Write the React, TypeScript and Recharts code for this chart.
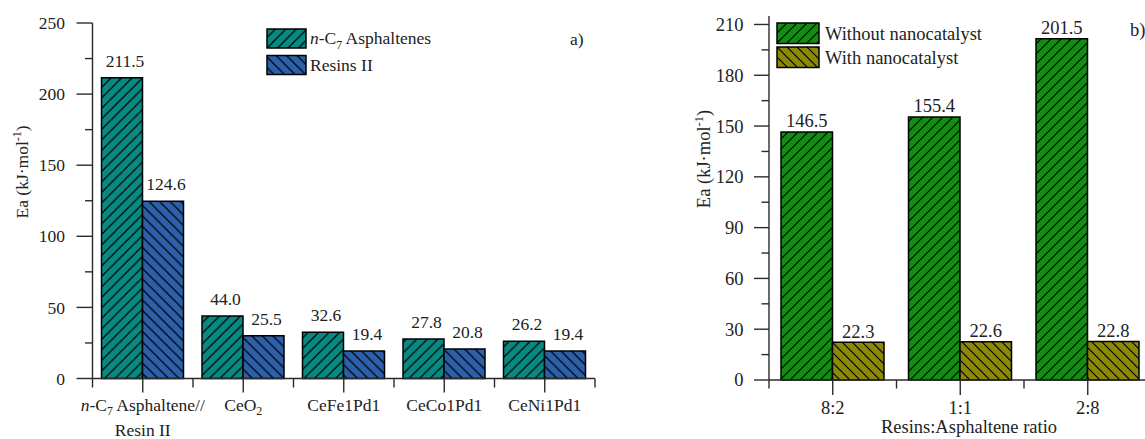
import React from "react";
import { BarChart, Bar, XAxis, YAxis, LabelList } from "recharts";

// panel a) activation energy, n-C7 asphaltenes vs resins II
const leftCategories = ["~n~-C_{7} Asphaltene//|Resin II", "CeO_{2}", "CeFe1Pd1", "CeCo1Pd1", "CeNi1Pd1"];
const asphalteneValues = [211.5, 44.0, 32.6, 27.8, 26.2];
const resinValues = [124.6, 30.0, 19.4, 20.8, 19.4];
const resinLabels = ["124.6", "25.5", "19.4", "20.8", "19.4"];
const leftSeriesNames = ["~n~-C_{7} Asphaltenes", "Resins II"];
const leftTicks = [0, 25, 50, 75, 100, 125, 150, 175, 200, 225, 250];

// panel b) resins:asphaltene ratio
const ratioCategories = ["8:2", "1:1", "2:8"];
const withoutValues = [146.5, 155.4, 201.5];
const withValues = [22.3, 22.6, 22.8];
const rightSeriesNames = ["Without nanocatalyst", "With nanocatalyst"];
const rightTicks = [0, 15, 30, 45, 60, 75, 90, 105, 120, 135, 150, 165, 180, 195, 210];

const SERIF = "'Liberation Serif', 'Times New Roman', serif";
const AXIS = "#2b2b2b";
const TEXT = "#222";
const axisLine = { stroke: AXIS, strokeWidth: 1.4 };

// tiny markup: ~italic~, _{sub}, ^{sup}
function rich(text: string, size: number) {
  const out: React.ReactNode[] = [];
  let italic = false;
  let buf = "";
  let pendingDy = 0;
  let k = 0;
  const push = (s: string, dy: number, fs?: number) => {
    out.push(
      <tspan key={k++} dy={dy || undefined} fontSize={fs} fontStyle={italic ? "italic" : undefined}>
        {s}
      </tspan>
    );
  };
  const flush = () => {
    if (buf) {
      push(buf, pendingDy);
      pendingDy = 0;
      buf = "";
    }
  };
  for (let i = 0; i < text.length; i++) {
    const c = text[i];
    if (c === "~") {
      flush();
      italic = !italic;
    } else if ((c === "_" || c === "^") && text[i + 1] === "{") {
      flush();
      const end = text.indexOf("}", i);
      const inner = text.slice(i + 2, end);
      const shift = c === "_" ? size * 0.28 : -size * 0.4;
      push(inner, pendingDy + shift, size * 0.68);
      pendingDy = -shift;
      i = end;
    } else {
      buf += c;
    }
  }
  flush();
  return out;
}

function makeYTick(majorStep: number, majorLen: number, minorLen: number, labelGap: number, fontSize: number) {
  return (props: any) => {
    const { x, y, payload } = props;
    const major = payload.value % majorStep === 0;
    return (
      <g>
        <line x1={x} x2={x - (major ? majorLen : minorLen)} y1={y} y2={y} stroke={AXIS} strokeWidth={1.4} />
        {major && (
          <text x={x - labelGap} y={y} dy="0.35em" textAnchor="end" fontSize={fontSize} fontFamily={SERIF} fill={TEXT}>
            {payload.value}
          </text>
        )}
      </g>
    );
  };
}

function makeXTick(band: number, count: number, majorLen: number, minorLen: number, fontSize: number, base: number, lineGap: number) {
  return (props: any) => {
    const { x, y, payload, index } = props;
    const lines = String(payload.value).split("|");
    return (
      <g>
        <line x1={x} x2={x} y1={y} y2={y + majorLen} stroke={AXIS} strokeWidth={1.4} />
        <line x1={x - band / 2} x2={x - band / 2} y1={y} y2={y + minorLen} stroke={AXIS} strokeWidth={1.4} />
        {index === count - 1 && (
          <line x1={x + band / 2} x2={x + band / 2} y1={y} y2={y + minorLen} stroke={AXIS} strokeWidth={1.4} />
        )}
        {lines.map((ln, i) => (
          <text key={i} x={x} y={y + base + i * lineGap} textAnchor="middle" fontSize={fontSize} fontFamily={SERIF} fill={TEXT}>
            {rich(ln, fontSize)}
          </text>
        ))}
      </g>
    );
  };
}

function Hatch({ id, color, period, back }: { id: string; color: string; period: number; back?: boolean }) {
  const p = period;
  const d = back
    ? `M0,0 L${p},${p} M${-p / 2},${p / 2} L${p / 2},${p * 1.5} M${p / 2},${-p / 2} L${p * 1.5},${p / 2}`
    : `M0,${p} L${p},0 M${-p / 2},${p / 2} L${p / 2},${-p / 2} M${p / 2},${p * 1.5} L${p * 1.5},${p / 2}`;
  return (
    <pattern id={id} patternUnits="userSpaceOnUse" width={p} height={p}>
      <rect width={p} height={p} fill={color} />
      <path d={d} stroke="#000" strokeWidth={1.2} />
    </pattern>
  );
}

const leftYTick = makeYTick(50, 16, 7.5, 27.5, 17.5);
const leftXTick = makeXTick(100.5, leftCategories.length, 14, 9, 17.5, 32, 25);
const rightYTick = makeYTick(30, 15, 7.5, 25.5, 18.5);
const rightXTick = makeXTick(127.5, ratioCategories.length, 15, 8.5, 18.5, 34, 25);

export default function App() {
  const leftData = leftCategories.map((name, i) => ({
    name,
    asph: asphalteneValues[i],
    resin: resinValues[i],
    resinLabel: resinLabels[i],
  }));
  const rightData = ratioCategories.map((name, i) => ({
    name,
    without: withoutValues[i],
    with: withValues[i],
  }));

  const leftLegend = [
    { name: leftSeriesNames[0], fill: "url(#hatchTeal)" },
    { name: leftSeriesNames[1], fill: "url(#hatchBlue)" },
  ];
  const rightLegend = [
    { name: rightSeriesNames[0], fill: "url(#hatchGreen)" },
    { name: rightSeriesNames[1], fill: "url(#hatchOlive)" },
  ];

  return (
    <div style={{ position: "fixed", left: 0, top: 0, width: 1145, height: 439, overflow: "hidden", background: "#fff" }}>
      <svg width={0} height={0} style={{ position: "absolute" }}>
        <defs>
          <Hatch id="hatchTeal" color="#088a83" period={10.5} />
          <Hatch id="hatchBlue" color="#2d60ab" period={10.5} back />
          <Hatch id="hatchGreen" color="#138c13" period={10} />
          <Hatch id="hatchOlive" color="#8c8a05" period={10} back />
        </defs>
      </svg>

      <div style={{ position: "absolute", left: 0, top: 0 }}>
        <BarChart width={600} height={439} data={leftData} margin={{ top: 23, right: 5, bottom: 0, left: 0 }} barGap={0}>
          <XAxis dataKey="name" height={60.5} interval={0} tickLine={false} tickSize={0} tickMargin={0} axisLine={axisLine} tick={leftXTick} />
          <XAxis xAxisId="top" orientation="top" height={0} tick={false} tickLine={false} axisLine={axisLine} />
          <YAxis type="number" domain={[0, 250]} ticks={leftTicks} interval={0} width={92.5} tickLine={false} tickSize={0} tickMargin={0} axisLine={axisLine} tick={leftYTick} />
          <YAxis yAxisId="right" orientation="right" width={0} tick={false} tickLine={false} axisLine={axisLine} />
          <Bar dataKey="asph" name="n-C7 Asphaltenes" barSize={41} fill="url(#hatchTeal)" stroke="#000" strokeWidth={1.5} isAnimationActive={false}>
            <LabelList dataKey="asph" position="top" offset={11} dx={3} formatter={(v: any) => Number(v).toFixed(1)} fontSize={17.5} fontFamily={SERIF} fill={TEXT} />
          </Bar>
          <Bar dataKey="resin" name="Resins II" barSize={41} fill="url(#hatchBlue)" stroke="#000" strokeWidth={1.5} isAnimationActive={false}>
            <LabelList dataKey="resinLabel" position="top" offset={11} dx={3} fontSize={17.5} fontFamily={SERIF} fill={TEXT} />
          </Bar>
        </BarChart>
      </div>

      <div style={{ position: "absolute", left: 680, top: 0 }}>
        <BarChart width={480} height={439} data={rightData} margin={{ top: 16, right: 8.5, bottom: 0, left: 0 }} barGap={0}>
          <XAxis dataKey="name" height={59} interval={0} tickLine={false} tickSize={0} tickMargin={0} axisLine={axisLine} tick={rightXTick} />
          <XAxis xAxisId="top" orientation="top" height={0} tick={false} tickLine={false} axisLine={axisLine} />
          <YAxis type="number" domain={[0, 215]} ticks={rightTicks} interval={0} width={89} tickLine={false} tickSize={0} tickMargin={0} axisLine={axisLine} tick={rightYTick} />
          <YAxis yAxisId="right" orientation="right" width={0} tick={false} tickLine={false} axisLine={axisLine} />
          <Bar dataKey="without" name={rightSeriesNames[0]} barSize={51.5} fill="url(#hatchGreen)" stroke="#000" strokeWidth={1.5} isAnimationActive={false}>
            <LabelList dataKey="without" position="top" offset={4.5} formatter={(v: any) => Number(v).toFixed(1)} fontSize={18.5} fontFamily={SERIF} fill={TEXT} />
          </Bar>
          <Bar dataKey="with" name={rightSeriesNames[1]} barSize={51.5} fill="url(#hatchOlive)" stroke="#000" strokeWidth={1.5} isAnimationActive={false}>
            <LabelList dataKey="with" position="top" offset={4.5} formatter={(v: any) => Number(v).toFixed(1)} fontSize={18.5} fontFamily={SERIF} fill={TEXT} />
          </Bar>
        </BarChart>
      </div>

      {/* titles, legends, panel letters */}
      <svg width={1145} height={439} style={{ position: "absolute", left: 0, top: 0, pointerEvents: "none" }} fontFamily={SERIF} fill={TEXT}>
        <text transform="translate(28,172) rotate(-90)" textAnchor="middle" fontSize={17.5}>
          {rich("Ea (kJ·mol^{-1})", 17.5)}
        </text>
        <text transform="translate(710,159) rotate(-90)" textAnchor="middle" fontSize={18.5}>
          {rich("Ea (kJ·mol^{-1})", 18.5)}
        </text>
        <text x={969} y={433} textAnchor="middle" fontSize={18.5}>
          Resins:Asphaltene ratio
        </text>

        {leftLegend.map((it, i) => (
          <g key={i}>
            <rect x={267} y={29 + i * 26.5} width={39} height={19} fill={it.fill} stroke="#000" strokeWidth={1.5} />
            <text x={310} y={44 + i * 26.5} fontSize={17.5}>
              {rich(it.name, 17.5)}
            </text>
          </g>
        ))}
        <text x={570} y={45} fontSize={17.5}>a)</text>

        {rightLegend.map((it, i) => (
          <g key={i}>
            <rect x={777} y={23 + i * 24} width={42} height={20.5} fill={it.fill} stroke="#000" strokeWidth={1.5} />
            <text x={825} y={39.5 + i * 24} fontSize={18.5}>
              {it.name}
            </text>
          </g>
        ))}
        <text x={1130} y={36} fontSize={18.5}>b)</text>
      </svg>
    </div>
  );
}
